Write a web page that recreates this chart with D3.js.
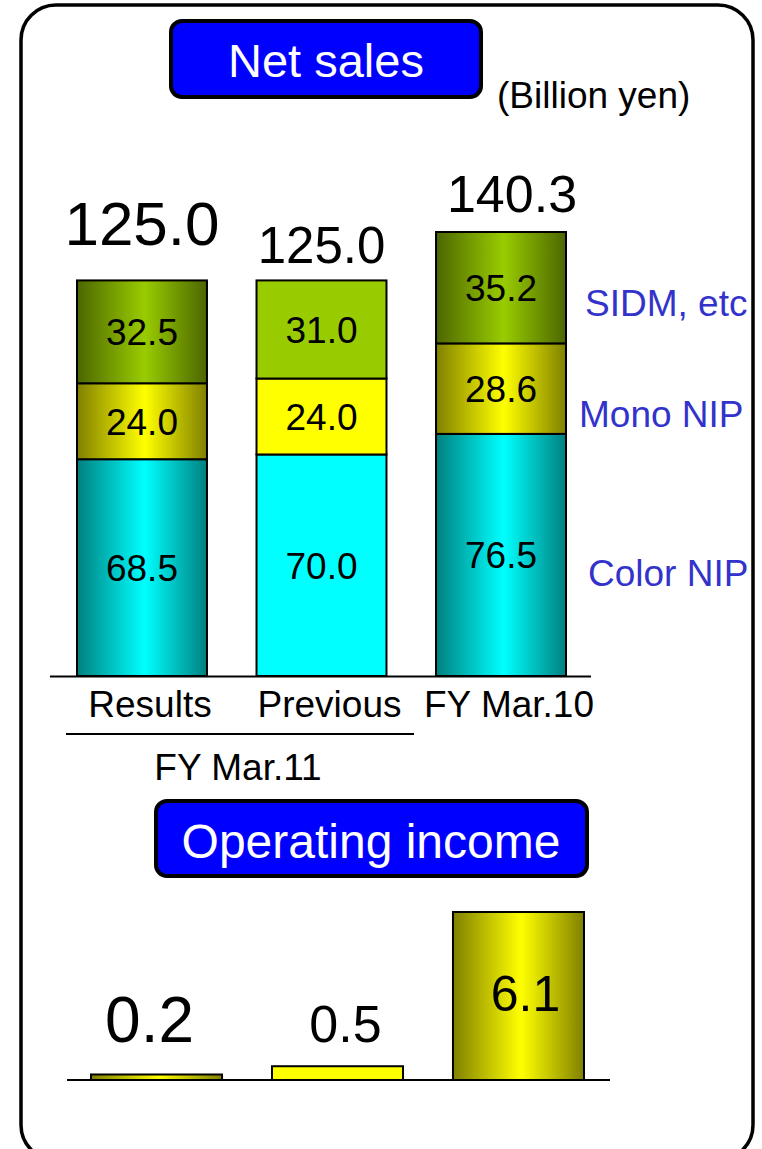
<!DOCTYPE html>
<html>
<head>
<meta charset="utf-8">
<script src="https://cdn.jsdelivr.net/npm/d3@7"></script>
<style>
  html, body { margin: 0; padding: 0; background: #fff; }
  text { font-family: "Liberation Sans", Arial, sans-serif; }
</style>
</head>
<body>
<script>
const WIDTH = 762;
const HEIGHT = 1149;

// values (billion yen)
const categories = ['Results', 'Previous', 'FY Mar.10'];
const seriesNames = ['Color NIP', 'Mono NIP', 'SIDM, etc'];
const colorNip = [68.5, 70.0, 76.5];
const monoNip = [24.0, 24.0, 28.6];
const sidm = [32.5, 31.0, 35.2];
const totals = [125.0, 125.0, 140.3];
const opIncome = [0.2, 0.5, 6.1];

// styling per bar (middle bar is flat, the others shaded like cylinders)
const flatBar = [false, true, false];
const totalFont = [62, 51, 52];
const totalGap = [35, 17, 20];
const totalDx = [0, 0, 11];
const opFont = [64, 52, 50];
const opDy = [-32, -24, 99];
const opDx = [-7, 8, 7];

const baseColors = {
  'Color NIP': ['#00ffff', '#008080'],
  'Mono NIP': ['#ffff00', '#808000'],
  'SIDM, etc': ['#99cc00', '#4c6600'],
};
const legendY = { 'SIDM, etc': 316, 'Mono NIP': 427, 'Color NIP': 586 };
const legendX = { 'SIDM, etc': 585, 'Mono NIP': 579, 'Color NIP': 588 };

const svg = d3.select('body').append('svg')
  .attr('width', WIDTH)
  .attr('height', HEIGHT);

const defs = svg.append('defs');
Object.keys(baseColors).forEach((k, i) => {
  const [bright, dark] = baseColors[k];
  const g = defs.append('linearGradient')
    .attr('id', 'cyl' + i)
    .attr('x1', 0).attr('x2', 1).attr('y1', 0).attr('y2', 0);
  g.append('stop').attr('offset', '0%').attr('stop-color', dark);
  g.append('stop').attr('offset', '52%').attr('stop-color', bright);
  g.append('stop').attr('offset', '100%').attr('stop-color', dark);
});
const fillFor = (name, idx) => (
  flatBar[idx] ? baseColors[name][0] : `url(#cyl${seriesNames.indexOf(name)})`
);

// outer frame
svg.append('rect')
  .attr('x', 21).attr('y', 5)
  .attr('width', 732).attr('height', 1155)
  .attr('rx', 35)
  .attr('fill', 'none')
  .attr('stroke', '#000')
  .attr('stroke-width', 3.5);

const titleBox = (x, y, w, h, label, cx, by, size) => {
  svg.append('rect')
    .attr('x', x).attr('y', y).attr('width', w).attr('height', h)
    .attr('rx', 11)
    .attr('fill', '#0000ff')
    .attr('stroke', '#000')
    .attr('stroke-width', 4);
  svg.append('text')
    .attr('x', cx).attr('y', by)
    .attr('text-anchor', 'middle')
    .attr('fill', '#fff')
    .attr('font-size', size)
    .text(label);
};

titleBox(171, 21, 310, 76, 'Net sales', 326, 77, 47);
svg.append('text')
  .attr('x', 497).attr('y', 108)
  .attr('font-size', 37)
  .text('(Billion yen)');

// ---- net sales stacked bars ----
const table = categories.map((c, i) => ({
  category: c, 'Color NIP': colorNip[i], 'Mono NIP': monoNip[i], 'SIDM, etc': sidm[i], idx: i,
}));
const stacked = d3.stack().keys(seriesNames)(table);

const x = d3.scaleBand()
  .domain(categories)
  .range([77, 566])
  .paddingInner(0.276)
  .paddingOuter(0);

const y = d3.scaleLinear()
  .domain([0, d3.max(totals)])
  .range([676, 232]);

const layers = svg.append('g').selectAll('g')
  .data(stacked)
  .join('g');

layers.selectAll('rect')
  .data(s => s.map(d => ({ key: s.key, d })))
  .join('rect')
  .attr('x', p => x(p.d.data.category))
  .attr('y', p => y(p.d[1]))
  .attr('width', x.bandwidth())
  .attr('height', p => y(p.d[0]) - y(p.d[1]))
  .attr('fill', p => fillFor(p.key, p.d.data.idx))
  .attr('stroke', '#000')
  .attr('stroke-width', 2);

layers.selectAll('text')
  .data(s => s.map(d => ({ key: s.key, d })))
  .join('text')
  .attr('x', p => x(p.d.data.category) + x.bandwidth() / 2)
  .attr('y', p => (y(p.d[0]) + y(p.d[1])) / 2)
  .attr('dy', '0.36em')
  .attr('text-anchor', 'middle')
  .attr('font-size', 37)
  .text(p => d3.format('.1f')(p.d[1] - p.d[0]));

svg.append('g').selectAll('text')
  .data(totals)
  .join('text')
  .attr('x', (d, i) => x(categories[i]) + x.bandwidth() / 2 + totalDx[i])
  .attr('y', (d, i) => y(d) - totalGap[i])
  .attr('text-anchor', 'middle')
  .attr('font-size', (d, i) => totalFont[i])
  .text(d => d3.format('.1f')(d));

// baseline
svg.append('line')
  .attr('x1', 50).attr('x2', 591)
  .attr('y1', y(0) + 0.5).attr('y2', y(0) + 0.5)
  .attr('stroke', '#000').attr('stroke-width', 2);

svg.append('g').selectAll('text')
  .data(categories)
  .join('text')
  .attr('x', d => x(d) + x.bandwidth() / 2 + 8)
  .attr('y', 717)
  .attr('text-anchor', 'middle')
  .attr('font-size', 37)
  .text(d => d);

// bracket for FY Mar.11
svg.append('line')
  .attr('x1', 66).attr('x2', 414)
  .attr('y1', 734).attr('y2', 734)
  .attr('stroke', '#000').attr('stroke-width', 2);
svg.append('text')
  .attr('x', 238).attr('y', 780)
  .attr('text-anchor', 'middle')
  .attr('font-size', 37)
  .text('FY Mar.11');

// series labels on the right
svg.append('g').selectAll('text')
  .data(seriesNames)
  .join('text')
  .attr('x', d => legendX[d])
  .attr('y', d => legendY[d])
  .attr('fill', '#3333cc')
  .attr('font-size', 37)
  .text(d => d);

// ---- operating income ----
titleBox(156, 801, 431, 75, 'Operating income', 371, 858, 48);

const x2 = d3.scaleBand()
  .domain(categories)
  .range([91, 584])
  .paddingInner(0.276)
  .paddingOuter(0);

const y2 = d3.scaleLinear()
  .domain([0, d3.max(opIncome)])
  .range([1080, 912]);

svg.append('g').selectAll('rect')
  .data(opIncome)
  .join('rect')
  .attr('x', (d, i) => x2(categories[i]))
  .attr('y', d => y2(d))
  .attr('width', x2.bandwidth())
  .attr('height', d => y2(0) - y2(d))
  .attr('fill', (d, i) => fillFor('Mono NIP', i))
  .attr('stroke', '#000')
  .attr('stroke-width', 2);

svg.append('g').selectAll('text')
  .data(opIncome)
  .join('text')
  .attr('x', (d, i) => x2(categories[i]) + x2.bandwidth() / 2 + opDx[i])
  .attr('y', (d, i) => y2(d) + opDy[i])
  .attr('text-anchor', 'middle')
  .attr('font-size', (d, i) => opFont[i])
  .text(d => d3.format('.1f')(d));

svg.append('line')
  .attr('x1', 67).attr('x2', 610)
  .attr('y1', y2(0)).attr('y2', y2(0))
  .attr('stroke', '#000').attr('stroke-width', 2);
</script>
</body>
</html>
